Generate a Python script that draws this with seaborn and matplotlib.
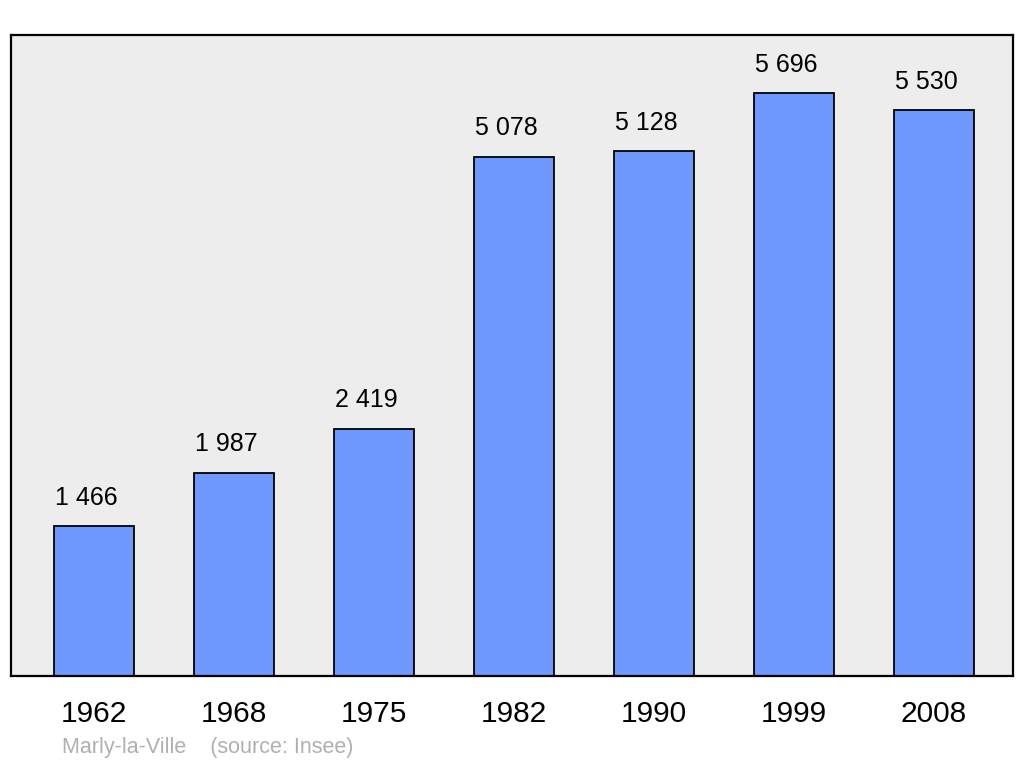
import pandas as pd
import matplotlib
matplotlib.use("Agg")
import matplotlib.pyplot as plt
import seaborn as sns

years = ["1962", "1968", "1975", "1982", "1990", "1999", "2008"]
population = [1466, 1987, 2419, 5078, 5128, 5696, 5530]
labels = ["1 466", "1 987", "2 419", "5 078", "5 128", "5 696", "5 530"]

df = pd.DataFrame({"year": years, "pop": population})

sns.set_style("white")
plt.rcParams["font.family"] = ["Liberation Sans", "DejaVu Sans"]

fig = plt.figure(figsize=(10.24, 7.65), dpi=100)
ax = fig.add_axes([11/1024, 1 - 676/765, 1002/1024, 641/765])
ax.set_facecolor("#ededed")

bw = 80 / 140
sns.barplot(data=df, x="year", y="pop", color="#7099ff", saturation=1,
            width=bw, edgecolor="black", linewidth=1.3, ax=ax)

for i, (v, lab) in enumerate(zip(population, labels)):
    ax.annotate(lab, (i - bw / 2, v), xytext=(1, 20.5), textcoords="offset points",
                ha="left", va="center", fontsize=18, color="black")

ax.set_xlim(-83 / 140, 6 + 79 / 140)
ax.set_ylim(0, 6266)
ax.set_yticks([])
ax.set_xlabel("")
ax.set_ylabel("")
ax.tick_params(axis="x", length=0, pad=17.5, labelsize=21.5, labelcolor="black")
for s in ax.spines.values():
    s.set_visible(True)
    s.set_color("black")
    s.set_linewidth(1.6)

fig.text(62 / 1024, 1 - 747 / 765, "Marly-la-Ville    (source: Insee)",
         color="#b0b0b0", fontsize=15.5, va="center", ha="left")

fig.savefig("out.png", dpi=100)
